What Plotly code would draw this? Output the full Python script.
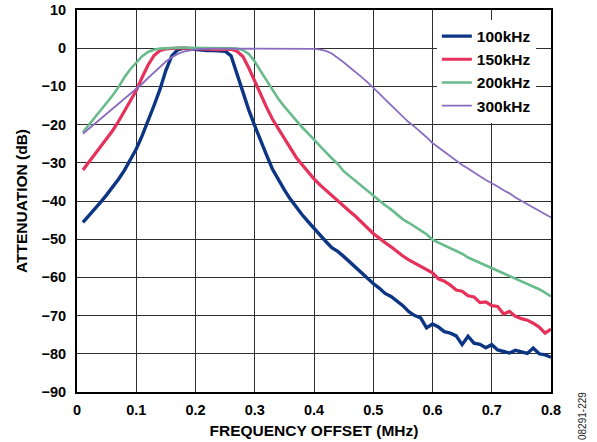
import plotly.graph_objects as go

freq_mhz = [round(0.01 * i, 2) for i in range(1, 81)]

att_100khz = [
    -45.6, -43.9, -42.1, -40.3, -38.4, -36.4, -34.3, -32.0, -29.3, -26.4,
    -22.9, -19.2, -15.0, -10.8, -5.8, -2.0, -0.4, 0.0, -0.2, -0.4,
    -0.5, -0.6, -0.6, -0.6, -0.8, -2.0, -6.8, -11.5, -16.2, -20.3,
    -24.4, -28.0, -31.7, -34.6, -37.1, -39.5, -41.6, -43.6, -45.4, -47.2,
    -49.0, -50.6, -52.2, -53.2, -54.5, -55.9, -57.3, -58.8, -60.3, -61.6,
    -62.8, -64.2, -65.0, -66.3, -67.4, -69.0, -70.0, -70.6, -73.2, -72.2,
    -73.0, -74.2, -74.6, -75.3, -77.6, -75.4, -77.2, -77.5, -78.4, -77.6,
    -79.0, -79.4, -79.8, -79.1, -79.6, -79.9, -78.5, -80.0, -80.3, -80.9,
]

att_150khz = [
    -31.9, -29.9, -27.8, -25.7, -23.7, -21.6, -19.2, -16.4, -13.7, -11.1,
    -7.6, -4.4, -1.9, -0.6, -0.2, 0.0, 0.0, 0.0, -0.1, -0.2,
    -0.3, -0.4, -0.4, -0.4, -0.3, -0.3, -0.8, -2.2, -5.2, -8.7,
    -12.0, -15.5, -18.6, -21.1, -23.6, -26.1, -28.6, -30.5, -32.5, -34.2,
    -35.8, -37.2, -38.6, -40.1, -41.4, -42.7, -44.0, -45.4, -47.0, -48.5,
    -49.8, -50.9, -52.0, -53.3, -54.4, -55.4, -56.3, -57.2, -58.1, -58.8,
    -60.4, -61.0, -62.0, -63.3, -63.6, -64.8, -65.1, -66.6, -66.4, -67.4,
    -67.6, -69.6, -68.9, -70.2, -70.8, -71.2, -72.0, -73.0, -74.6, -73.5,
]

att_200khz = [
    -22.0, -20.1, -18.2, -16.3, -14.4, -12.4, -10.2, -7.6, -5.5, -3.8,
    -2.1, -1.0, -0.4, -0.1, 0.0, 0.1, 0.1, 0.1, 0.1, 0.1,
    0.1, 0.1, 0.1, 0.1, 0.1, 0.0, -0.1, -0.5, -1.5, -3.5,
    -6.0, -8.5, -11.0, -13.3, -15.3, -17.2, -19.0, -20.7, -22.3, -24.0,
    -25.6, -27.2, -28.8, -30.3, -32.2, -33.5, -34.8, -36.0, -37.3, -38.6,
    -39.9, -41.1, -42.2, -43.4, -44.8, -45.7, -46.6, -47.7, -48.7, -50.1,
    -50.9, -51.6, -52.4, -53.2, -53.8, -54.8, -55.5, -56.1, -57.0, -57.7,
    -58.2, -59.1, -59.7, -60.4, -61.0, -61.7, -62.5, -63.1, -64.0, -65.0,
]

att_300khz = [
    -22.4, -21.1, -19.8, -18.6, -17.3, -15.9, -14.6, -13.2, -11.9, -10.7,
    -9.3, -7.8, -6.3, -4.8, -3.5, -2.4, -1.5, -0.9, -0.5, -0.3,
    -0.2, -0.1, -0.1, -0.1, -0.1, -0.1, -0.1, -0.1, -0.1, -0.1,
    -0.1, -0.1, -0.1, -0.1, -0.1, -0.1, -0.1, -0.1, -0.1, -0.2,
    -0.4, -0.7, -1.4, -2.5, -3.7, -5.0, -6.2, -7.5, -8.9, -10.3,
    -11.8, -13.4, -14.9, -16.3, -17.9, -19.4, -20.6, -21.9, -23.3, -24.8,
    -26.0, -27.1, -28.3, -29.5, -30.6, -31.5, -32.6, -33.5, -34.5, -35.3,
    -36.2, -37.2, -38.0, -39.1, -40.0, -40.9, -41.7, -42.6, -43.4, -44.3,
]

series = [
    ("100kHz", att_100khz, "#0c3584", 3.4),
    ("150kHz", att_150khz, "#e6315a", 3.2),
    ("200kHz", att_200khz, "#68bb8c", 2.6),
    ("300kHz", att_300khz, "#8a6cc0", 1.8),
]

FONT = "Liberation Sans, Arial, sans-serif"

fig = go.Figure()
for name, vals, color, w in series:
    fig.add_trace(go.Scatter(
        x=freq_mhz, y=vals, mode="lines", name=name,
        line=dict(color=color, width=w),
    ))

axis_common = dict(
    showline=True, mirror=True, linecolor="black", linewidth=2,
    showgrid=True, gridcolor="#2e2e2e", gridwidth=1.4,
    zeroline=False, ticks="",
    tickfont=dict(family=FONT, size=14.5, color="black", weight="bold"),
)

fig.update_xaxes(
    range=[0, 0.8], dtick=0.1, tick0=0, ticklabelstandoff=4,
    title=dict(text="FREQUENCY OFFSET (MHz)", standoff=8,
               font=dict(family=FONT, size=15.5, color="black", weight="bold")),
    **axis_common,
)
fig.update_yaxes(
    range=[-90, 10], dtick=10, tick0=0, ticklabelstandoff=6,
    title=dict(text="ATTENUATION (dB)", standoff=10,
               font=dict(family=FONT, size=15.5, color="black", weight="bold")),
    **axis_common,
)

fig.update_layout(
    width=597, height=442,
    margin=dict(l=77, r=46, t=10, b=50, autoexpand=False),
    paper_bgcolor="white", plot_bgcolor="white",
    font=dict(family=FONT, color="black"),
    showlegend=True,
    legend=dict(
        x=0.968, xanchor="right", y=0.975, yanchor="top",
        bgcolor="white", borderwidth=0,
        font=dict(family=FONT, size=15.5, color="black", weight="bold"),
        itemwidth=30,
    ),
    annotations=[dict(
        text="08291-229", xref="paper", yref="paper",
        x=(582 - 77) / 474, y=(392 - 416) / 382,
        xanchor="center", yanchor="middle",
        showarrow=False, textangle=-90,
        font=dict(family=FONT, size=10, color="#222"),
    )],
)

fig.write_html(
    "out.html",
    config={"displayModeBar": False},
    post_script="document.body.style.margin='0';document.body.style.overflow='hidden';",
)
